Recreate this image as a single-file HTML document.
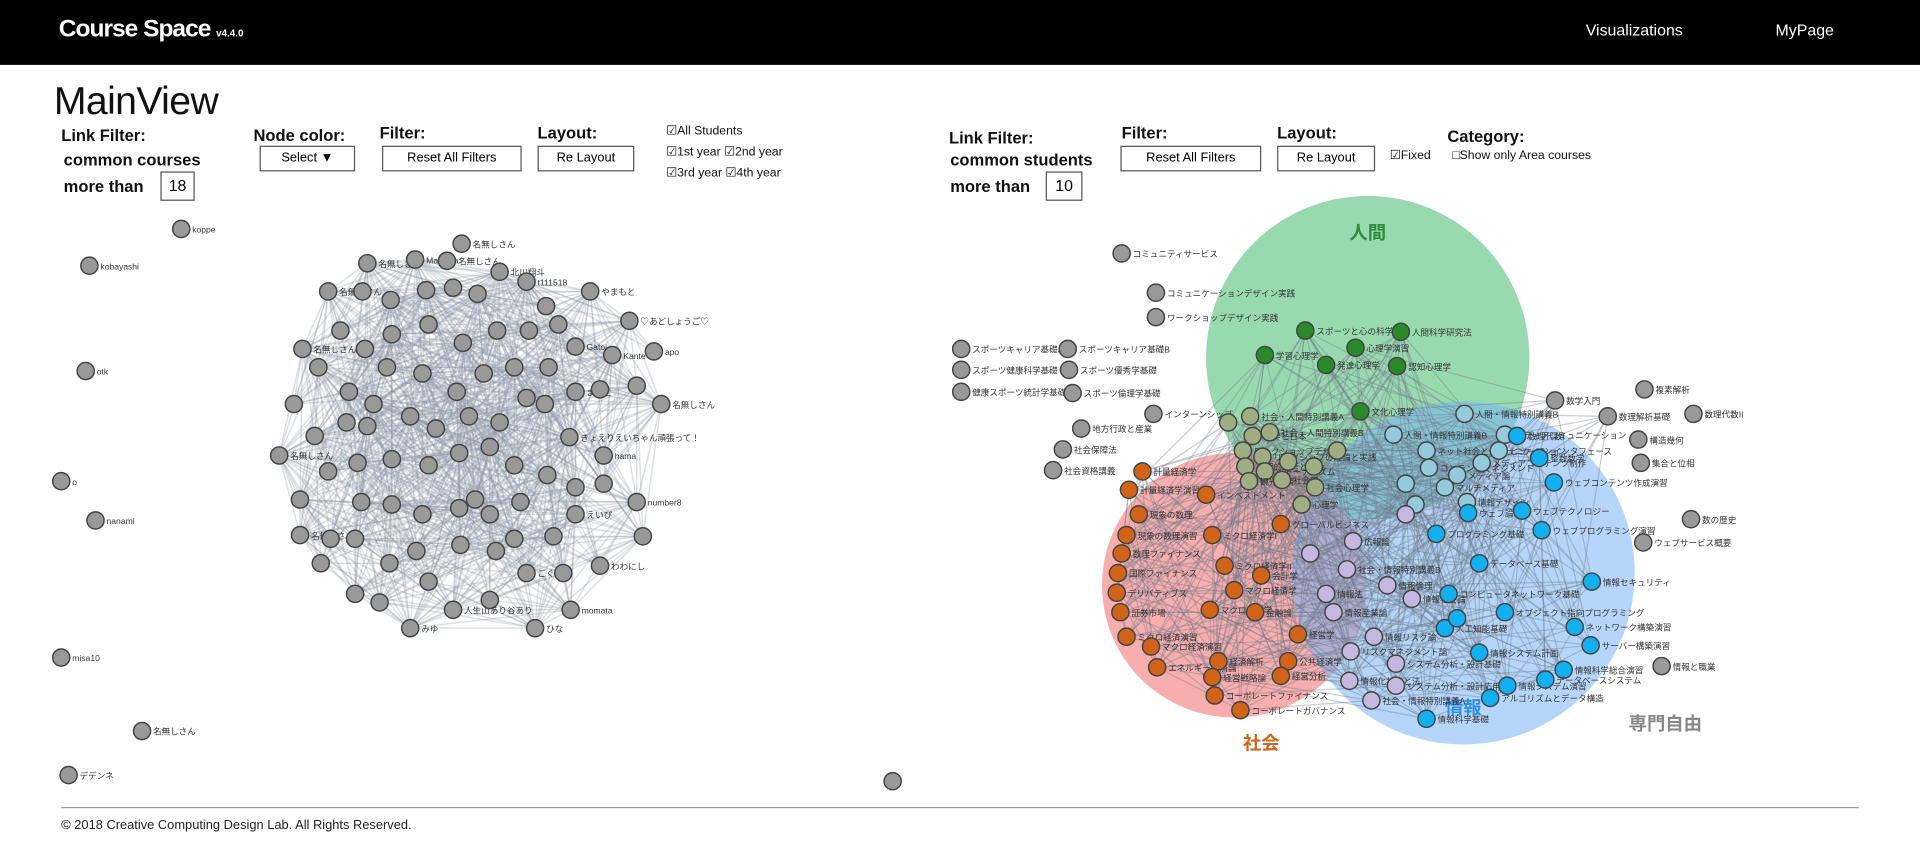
<!DOCTYPE html>
<html><head><meta charset="utf-8">
<style>
html,body{margin:0;padding:0;width:1920px;height:846px;overflow:hidden;background:#fff;}
#stage{position:absolute;left:0;top:0;width:1568px;height:691px;transform:scale(1.22449);transform-origin:0 0;font-family:"Liberation Sans","Noto Sans CJK JP",sans-serif;}
.hdr{position:absolute;left:0;top:0;width:1568px;height:53px;background:#000;}
.abs{position:absolute;white-space:nowrap;}
.lbl{font-weight:bold;font-size:13.5px;color:#111;}
.btn{position:absolute;border:1.5px solid #555;background:#fff;font-size:10.5px;text-align:center;box-sizing:border-box;height:21px;line-height:18px;}
.num{position:absolute;border:1.5px solid #555;background:#fff;font-size:13px;text-align:center;box-sizing:border-box;height:24px;line-height:21px;}
.sm{font-size:10px;color:#111;}
</style></head><body>
<div id="stage">
<div class="hdr"></div>
<div class="abs" style="left:48px;top:13px;color:#fff;font-weight:bold;font-size:20px;letter-spacing:-0.8px">Course Space <span style="font-size:8px;letter-spacing:0">v4.4.0</span></div>
<div class="abs" style="left:1295px;top:17px;color:#fff;font-size:13px">Visualizations</div>
<div class="abs" style="left:1450px;top:17px;color:#fff;font-size:13px">MyPage</div>

<div class="abs" style="left:44px;top:64px;font-size:32px;color:#111;letter-spacing:-0.5px">MainView</div>

<div class="abs lbl" style="left:50px;top:103px">Link Filter:</div>
<div class="abs lbl" style="left:52px;top:123px">common courses</div>
<div class="abs lbl" style="left:52px;top:145px">more than</div>
<div class="num" style="left:131px;top:140px;width:28px">18</div>
<div class="abs lbl" style="left:207px;top:103px">Node color:</div>
<div class="btn" style="left:212px;top:119px;width:78px">Select ▼</div>
<div class="abs lbl" style="left:310px;top:101px">Filter:</div>
<div class="btn" style="left:312px;top:119px;width:114px">Reset All Filters</div>
<div class="abs lbl" style="left:439px;top:101px">Layout:</div>
<div class="btn" style="left:439px;top:119px;width:79px">Re Layout</div>
<div class="abs sm" style="left:544px;top:102px">☑All Students</div>
<div class="abs sm" style="left:544px;top:119px">☑1st year ☑2nd year</div>
<div class="abs sm" style="left:544px;top:136px">☑3rd year ☑4th year</div>

<div class="abs lbl" style="left:775px;top:105px">Link Filter:</div>
<div class="abs lbl" style="left:776px;top:123px">common students</div>
<div class="abs lbl" style="left:776px;top:145px">more than</div>
<div class="num" style="left:854px;top:140px;width:30px">10</div>
<div class="abs lbl" style="left:916px;top:101px">Filter:</div>
<div class="btn" style="left:915px;top:119px;width:115px">Reset All Filters</div>
<div class="abs lbl" style="left:1043px;top:101px">Layout:</div>
<div class="btn" style="left:1043px;top:119px;width:80px">Re Layout</div>
<div class="abs sm" style="left:1135px;top:122px">☑Fixed</div>
<div class="abs lbl" style="left:1182px;top:104px">Category:</div>
<div class="abs sm" style="left:1186px;top:122px">□Show only Area courses</div>

<svg id="net" class="abs" style="left:0;top:0" width="1568" height="691"></svg>

<div class="abs" style="left:50px;top:659px;width:1468px;height:1px;background:#999"></div>
<div class="abs" style="left:50px;top:668px;font-size:10.5px;color:#222">© 2018 Creative Computing Design Lab. All Rights Reserved.</div>
</div>
<script>
const NS="http://www.w3.org/2000/svg";
const svg=document.getElementById('net');
const leftNodes=[[377,199,"名無しさん"],[300,215,"名無しさん"],[339,212,"Machida"],[365,213,"名無しさん"],[408,222,"北川翔斗"],[268,238,"名無しさん"],[296,238,""],[319,245,""],[348,237,""],[370,235,""],[390,240,""],[430,230,"t111518"],[446,250,""],[482,238,"やまもと"],[514,262,"♡あどしょうご♡"],[534,287,"apo"],[540,330,"名無しさん"],[500,290,"Kante"],[470,283,"Gatoi"],[456,265,""],[470,320,"まりこ"],[490,318,""],[520,315,""],[247,285,"名無しさん"],[278,270,""],[298,285,""],[320,273,""],[350,265,""],[378,280,""],[406,270,""],[432,270,""],[448,300,""],[420,300,""],[395,305,""],[373,320,""],[345,305,""],[316,300,""],[285,320,""],[260,300,""],[240,330,""],[228,372,"名無しさん"],[257,356,""],[283,345,""],[305,330,""],[335,340,""],[356,350,""],[383,340,""],[408,345,""],[430,325,""],[445,330,""],[465,357,"きょえりえいちゃん頑張って！"],[493,372,"hama"],[520,410,"number8"],[525,438,""],[493,395,""],[470,398,""],[447,388,""],[420,380,""],[400,365,""],[375,370,""],[350,380,""],[320,375,""],[292,378,""],[268,385,""],[245,408,""],[245,437,"名無しさん"],[270,440,""],[295,410,""],[320,412,""],[345,420,""],[375,415,""],[400,420,""],[425,410,""],[452,438,""],[470,420,"えいぴ"],[490,462,"わわにし"],[466,498,"momata"],[437,513,"ひな"],[400,490,""],[370,498,"人生山あり谷あり"],[335,513,"みゆ"],[350,475,""],[318,460,""],[290,440,""],[262,460,""],[290,485,""],[310,492,""],[340,450,""],[376,445,""],[405,450,""],[430,468,"ごぐら"],[460,468,""],[388,408,""],[420,440,""],[300,348,""]];
const leftOut=[[148,187,"koppe"],[73,217,"kobayashi"],[70,303,"otk"],[50,393,"o"],[78,425,"nanami"],[50,537,"misa10"],[116,597,"名無しさん"],[56,633,"デデンネ"],[729,638,""]];
const catColor={h:"#2a8a2a",o:"#9fae82",s:"#d2641a",p:"#c4b8e0",t:"#94cbdc",i:"#12b0f0",g:"#999"};
const rightNodes=[
[916,207,"コミュニティサービス","g"],[944,239,"コミュニケーションデザイン実践","g"],[944,259,"ワークショップデザイン実践","g"],[785,285,"スポーツキャリア基礎A","g"],[872,285,"スポーツキャリア基礎B","g"],[785,302,"スポーツ健康科学基礎","g"],[873,302,"スポーツ優秀学基礎","g"],[785,320,"健康スポーツ統計学基礎","g"],[876,321,"スポーツ倫理学基礎","g"],[942,338,"インターンシップ","g"],[883,350,"地方行政と産業","g"],[868,367,"社会保障法","g"],[860,384,"社会資格講義","g"],
[1270,327,"数学入門","g"],[1313,340,"数理解析基礎","g"],[1343,318,"複素解析","g"],[1383,338,"数理代数II","g"],[1338,359,"構造幾何","g"],[1340,378,"集合と位相","g"],[1381,424,"数の歴史","g"],[1342,443,"ウェブサービス概要","g"],[1357,544,"情報と職業","g"],
[1066,270,"スポーツと心の科学","h"],[1144,271,"人間科学研究法","h"],[1107,284,"心理学演習","h"],[1033,290,"学習心理学","h"],[1083,298,"発達心理学","h"],[1141,299,"認知心理学","h"],[1111,336,"文化心理学","h"],
[1003,345,"","o"],[1021,340,"社会・人間特別講義A","o"],[1023,356,"世界と日本","o"],[1037,353,"社会・人間特別講義B","o"],[1015,368,"ワークショップデザイン","o"],[1031,373,"リーダシップの理論と実践","o"],[1017,381,"合理的思考と社会","o"],[1033,385,"ジャーナリズム","o"],[1020,393,"観光経済","o"],[1047,392,"社会学","o"],[1073,381,"","o"],[1074,398,"社会心理学","o"],[1063,412,"心理学","o"],[1052,377,"","o"],[1092,368,"","o"],
[1138,355,"人間・情報特別講義B","t"],[1165,368,"ネット社会とコミュニケーション","t"],[1167,382,"コンテンツマネジメント","t"],[1180,398,"マルチメディア","t"],[1198,410,"情報デザイン","t"],[1196,338,"人間・情報特別講義B","t"],[1229,355,"メディアコミュニケーション","t"],[1224,368,"ヒューマンインタフェース","t"],[1210,378,"メディアコンテンツ制作","t"],[1190,388,"メディア論","t"],[1148,395,"","t"],[1156,412,"","t"],
[933,385,"計量経済学","s"],[922,400,"計量経済学演習","s"],[985,404,"インベストメント","s"],[930,420,"現象の数理","s"],[920,437,"現象の数理演習","s"],[916,452,"数理ファイナンス","s"],[913,468,"国際ファイナンス","s"],[1046,428,"グローバルビジネス","s"],[990,437,"ミクロ経済学I","s"],[912,484,"デリバティブズ","s"],[915,500,"証券市場","s"],[1000,462,"ミクロ経済学II","s"],[1030,470,"会計学","s"],[1008,482,"マクロ経済学","s"],[920,520,"ミクロ経済演習","s"],[988,498,"マクロ経済学","s"],[940,528,"マクロ経済演習","s"],[945,545,"エネルギー経済論","s"],[1025,500,"金融論","s"],[1060,518,"経営学","s"],[995,540,"経済解析","s"],[1052,540,"公共経済学","s"],[1046,552,"経営分析","s"],[990,553,"経営戦略論","s"],[992,568,"コーポレートファイナンス","s"],[1013,580,"コーポレートガバナンス","s"],
[1105,442,"広報論","p"],[1100,465,"社会・情報特別講義B","p"],[1133,478,"情報倫理","p"],[1083,485,"情報法","p"],[1089,500,"情報産業論","p"],[1153,489,"情報社会論","p"],[1122,520,"情報リスク論","p"],[1103,532,"リスクマネジメント論","p"],[1140,542,"システム分析・設計基礎","p"],[1102,556,"情報化社会と法","p"],[1140,560,"システム分析・設計応用","p"],[1120,572,"社会・情報特別講義A","p"],[1148,420,"","p"],[1070,452,"","p"],
[1239,356,"数理代数I","i"],[1257,374,"整数数学","i"],[1269,394,"ウェブコンテンツ作成演習","i"],[1199,419,"ウェブ論","i"],[1243,417,"ウェブテクノロジー","i"],[1259,433,"ウェブプログラミング演習","i"],[1173,436,"プログラミング基礎","i"],[1208,460,"データベース基礎","i"],[1183,485,"コンピュータネットワーク基礎","i"],[1229,500,"オブジェクト指向プログラミング","i"],[1180,513,"人工知能基礎","i"],[1208,533,"情報システム計画","i"],[1300,475,"情報セキュリティ","i"],[1286,512,"ネットワーク構築演習","i"],[1299,527,"サーバー構築演習","i"],[1277,547,"情報科学総合演習","i"],[1231,560,"情報システム演習","i"],[1262,555,"データベースシステム","i"],[1217,570,"アルゴリズムとデータ構造","i"],[1165,587,"情報科学基礎","i"],[1190,505,"","i"]
];
const areas=[[1117,292,132,"rgba(70,185,110,0.55)","人間",1117,195,"#2e8b3e"],[1008,478,108,"rgba(245,130,130,0.65)","社会",1030,612,"#d2641a"],[1195,468,140,"rgba(120,180,245,0.55)","情報",1195,583,"#2f8fe0"]];
function el(t,a,p){const e=document.createElementNS(NS,t);for(const k in a)e.setAttribute(k,a[k]);(p||svg).appendChild(e);return e;}
areas.forEach((a,i)=>{const c=el('circle',{cx:a[0],cy:a[1],r:a[2],fill:a[3]});

});
const lg=el('g',{stroke:'#8a96a6','stroke-opacity':0.3,'stroke-width':1.2});


for(let i=0;i<leftNodes.length;i++)for(let j=i+1;j<leftNodes.length;j++){const a=leftNodes[i],b=leftNodes[j];const d=Math.hypot(a[0]-b[0],a[1]-b[1]);if(d<140&&((i*7+j*3)%3!=0))el('line',{x1:a[0],y1:a[1],x2:b[0],y2:b[1]},lg);}
const rg=el('g',{stroke:'#6e7a88','stroke-opacity':0.38,'stroke-width':1});


const rc=rightNodes.filter(n=>n[3]!='g'||n[0]>1260&&n[0]<1320);
for(let i=0;i<rc.length;i++)for(let j=i+1;j<rc.length;j++){const a=rc[i],b=rc[j];const d=Math.hypot(a[0]-b[0],a[1]-b[1]);if(d<200&&((i*5+j*11)%4==0))el('line',{x1:a[0],y1:a[1],x2:b[0],y2:b[1]},rg);}
areas.forEach((a,i)=>{const t=el('text',{x:a[5],y:a[6],'text-anchor':'middle','font-size':15,'font-weight':'bold',fill:a[7]});t.textContent=a[4];

});
const sj=el('text',{x:1360,y:596,'text-anchor':'middle','font-size':15,'font-weight':'bold',fill:'#888'});sj.textContent='専門自由';


function node(x,y,label,fill,name){const g=el('g',{});


el('circle',{cx:x,cy:y,r:7,fill:fill,stroke:'#444','stroke-width':1.2},g);
if(label){const t=el('text',{x:x+9,y:y+3,'font-size':7,fill:'#333'},g);t.textContent=label;}}
leftNodes.forEach(n=>node(n[0],n[1],n[2],'#999','student-node'));
leftOut.forEach(n=>node(n[0],n[1],n[2],'#999','student-node'));
rightNodes.forEach(n=>node(n[0],n[1],n[2],catColor[n[3]],'course-node'));
</script>
</body></html>
